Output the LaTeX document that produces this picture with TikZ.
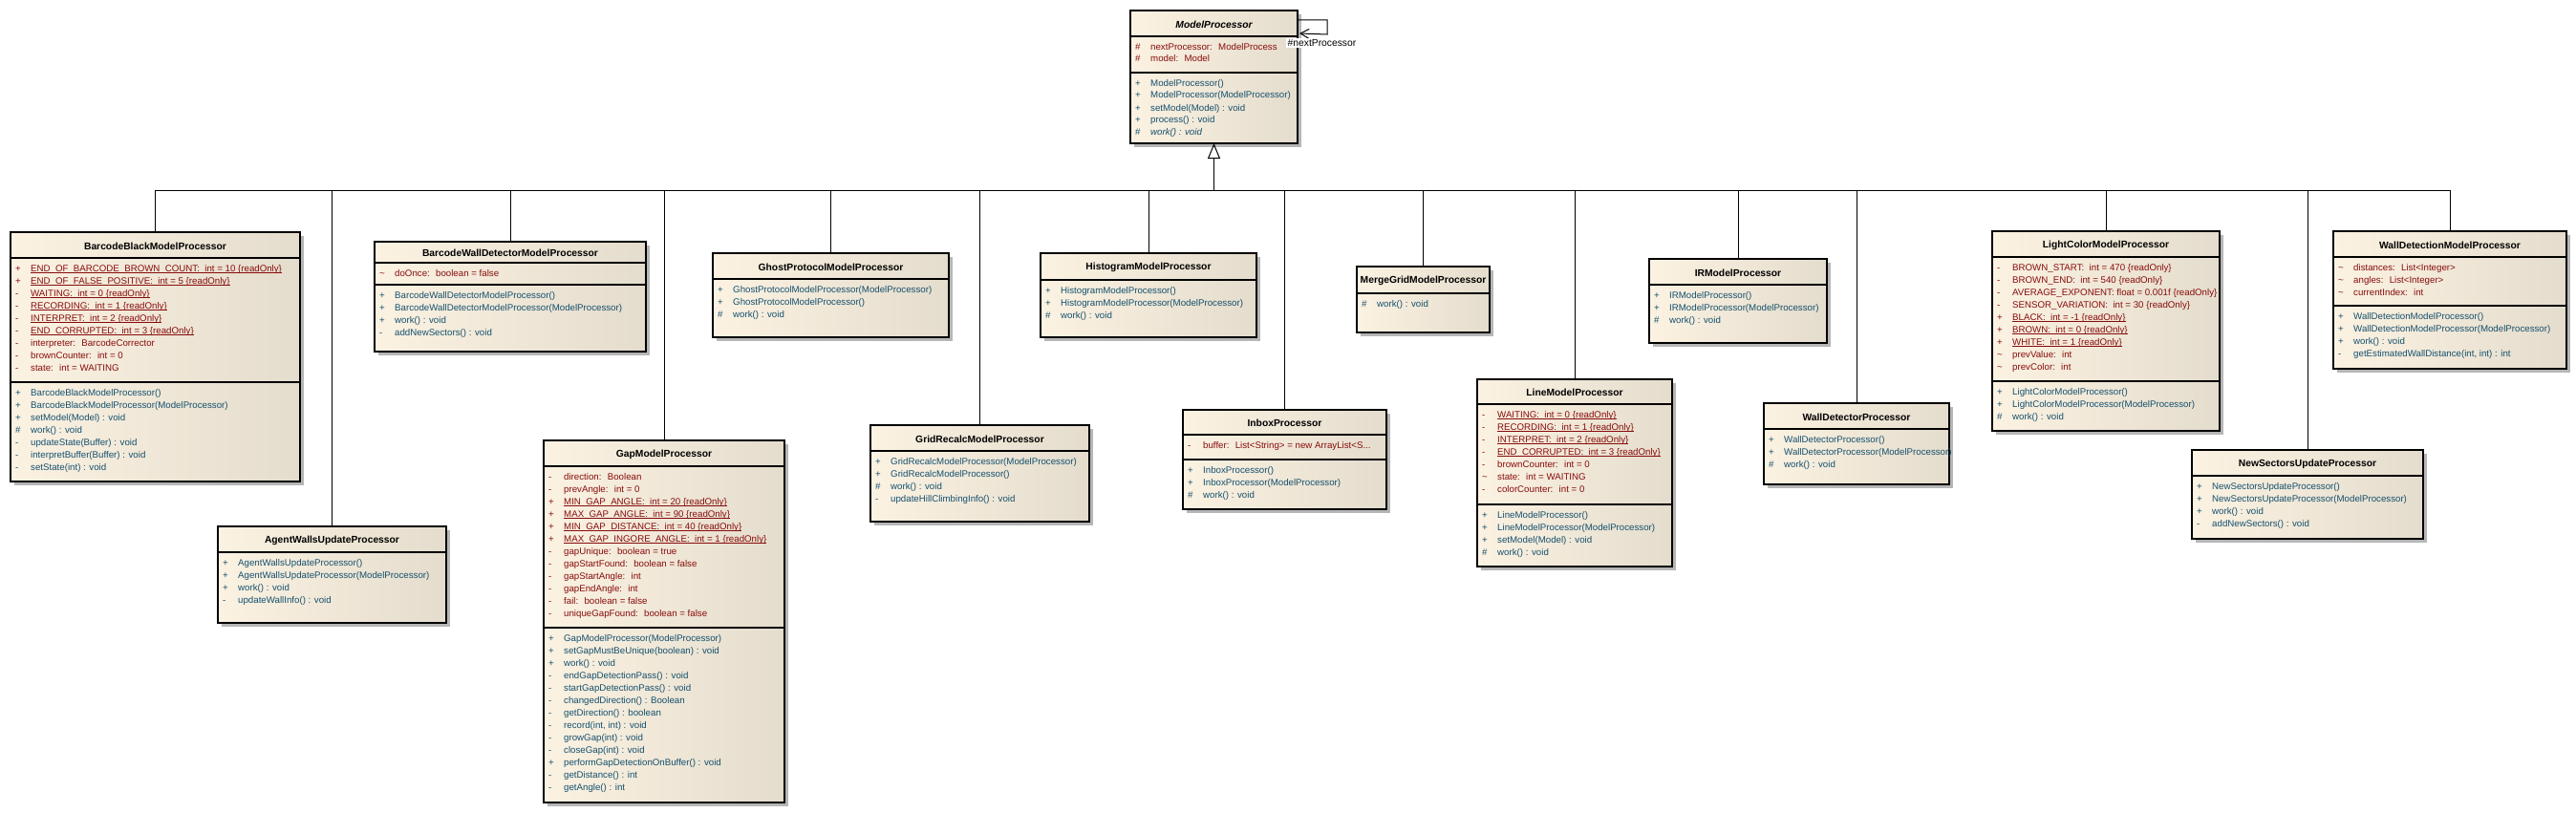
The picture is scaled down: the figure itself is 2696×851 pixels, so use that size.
\documentclass[tikz,border=0pt]{standalone}
\usepackage{fontspec}
\setmainfont{Liberation Sans}
\usetikzlibrary{arrows.meta}
\definecolor{cl}{RGB}{251,242,226}
\definecolor{cr}{RGB}{228,220,204}
\definecolor{shadowc}{RGB}{182,182,182}
\definecolor{attrc}{RGB}{135,12,12}
\definecolor{opc}{RGB}{20,80,110}
\newcommand{\memfont}{\fontsize{9.7}{13}\selectfont}
\newcommand{\ttlfont}{\fontsize{10.3}{13}\selectfont}
\newcommand{\uln}[1]{\setbox0\hbox{#1}\rlap{\rule[-2.3pt]{\wd0}{1.1pt}}\box0}
\newcommand{\tld}{\textasciitilde}
\tikzset{
  classbox/.style={draw, line width=1.5pt, left color=cl, right color=cr, inner sep=0pt, outer sep=0pt},
  divline/.style={line width=1.3pt},
  titletext/.style={font=\ttlfont\bfseries, inner sep=0pt},
  attrs/.style={font=\memfont, text=attrc, inner sep=0pt, anchor=north west},
  opers/.style={font=\memfont, text=opc, inner sep=0pt, anchor=north west},
  conn/.style={line width=1pt},
  lbl/.style={font=\ttlfont, fill=white, inner sep=1.5pt}
}
% name, left, top, right, bottom, header divider y, title
\newcommand{\umlclass}[7]{%
  \fill[shadowc] ({#2+4},{#3+4}) rectangle ({#4+4},{#5+4});
  \node[classbox, anchor=north west, minimum width={(#4-#2)*1pt}, minimum height={(#5-#3)*1pt}] (#1) at (#2,#3) {};
  \draw[divline] (#2,#6) -- (#4,#6);
  \node[titletext] (#1-t) at ({(#2+#4)/2},{(#3+#6)/2+1}) {#7};
}
% left, right, divider y
\newcommand{\compdiv}[3]{\draw[divline] (#1,#3) -- (#2,#3);}
% node name, style, left, top divider y, rows
\newcommand{\members}[5]{%
  \node[#2] (#1) at ({#3+5},{#4+4.7}) {\begin{tabular}{@{}p{16pt}@{}l@{}}#5\end{tabular}};
}
\begin{document}
\begin{tikzpicture}[x=1pt,y=-1pt]
\fill[white] (0,0) rectangle (2696,851);
\useasboundingbox (0,0) rectangle (2696,851);

% ModelProcessor
\umlclass{mp}{1183}{11}{1358}{150}{38}{\itshape ModelProcessor}
\compdiv{1183}{1358}{76}
\members{mp-a}{attrs}{1183}{38}{\# & nextProcessor:~ ModelProcess\\ \# & model:~ Model}
\members{mp-o}{opers}{1183}{76}{+ & ModelProcessor()\\ + & ModelProcessor(ModelProcessor)\\ + & setModel(Model) : void\\ + & process() : void\\ \# & \itshape work() : void}

% BarcodeBlackModelProcessor
\umlclass{bb}{11}{243}{314}{504}{270}{BarcodeBlackModelProcessor}
\compdiv{11}{314}{400}
\members{bb-a}{attrs}{11}{270}{+ & \uln{END\_OF\_BARCODE\_BROWN\_COUNT:~ int = 10 \{readOnly\}}\\ + & \uln{END\_OF\_FALSE\_POSITIVE:~ int = 5 \{readOnly\}}\\ - & \uln{WAITING:~ int = 0 \{readOnly\}}\\ - & \uln{RECORDING:~ int = 1 \{readOnly\}}\\ - & \uln{INTERPRET:~ int = 2 \{readOnly\}}\\ - & \uln{END\_CORRUPTED:~ int = 3 \{readOnly\}}\\ - & interpreter:~ BarcodeCorrector\\ - & brownCounter:~ int = 0\\ - & state:~ int = WAITING}
\members{bb-o}{opers}{11}{400}{+ & BarcodeBlackModelProcessor()\\ + & BarcodeBlackModelProcessor(ModelProcessor)\\ + & setModel(Model) : void\\ \# & work() : void\\ - & updateState(Buffer) : void\\ - & interpretBuffer(Buffer) : void\\ - & setState(int) : void}

% AgentWallsUpdateProcessor
\umlclass{aw}{228}{551}{467}{652}{578}{AgentWallsUpdateProcessor}
\members{aw-o}{opers}{228}{578}{+ & AgentWallsUpdateProcessor()\\ + & AgentWallsUpdateProcessor(ModelProcessor)\\ + & work() : void\\ - & updateWallInfo() : void}

% BarcodeWallDetectorModelProcessor
\umlclass{bw}{392}{253}{676}{368}{275}{BarcodeWallDetectorModelProcessor}
\compdiv{392}{676}{298}
\members{bw-a}{attrs}{392}{275}{\tld & doOnce:~ boolean = false}
\members{bw-o}{opers}{392}{298}{+ & BarcodeWallDetectorModelProcessor()\\ + & BarcodeWallDetectorModelProcessor(ModelProcessor)\\ + & work() : void\\ - & addNewSectors() : void}

% GapModelProcessor
\umlclass{gap}{569}{461}{821}{840}{488}{GapModelProcessor}
\compdiv{569}{821}{657}
\members{gap-a}{attrs}{569}{488}{- & direction:~ Boolean\\ - & prevAngle:~ int = 0\\ + & \uln{MIN\_GAP\_ANGLE:~ int = 20 \{readOnly\}}\\ + & \uln{MAX\_GAP\_ANGLE:~ int = 90 \{readOnly\}}\\ + & \uln{MIN\_GAP\_DISTANCE:~ int = 40 \{readOnly\}}\\ + & \uln{MAX\_GAP\_INGORE\_ANGLE:~ int = 1 \{readOnly\}}\\ - & gapUnique:~ boolean = true\\ - & gapStartFound:~ boolean = false\\ - & gapStartAngle:~ int\\ - & gapEndAngle:~ int\\ - & fail:~ boolean = false\\ - & uniqueGapFound:~ boolean = false}
\members{gap-o}{opers}{569}{657}{+ & GapModelProcessor(ModelProcessor)\\ + & setGapMustBeUnique(boolean) : void\\ + & work() : void\\ - & endGapDetectionPass() : void\\ - & startGapDetectionPass() : void\\ - & changedDirection() : Boolean\\ - & getDirection() : boolean\\ - & record(int, int) : void\\ - & growGap(int) : void\\ - & closeGap(int) : void\\ + & performGapDetectionOnBuffer() : void\\ - & getDistance() : int\\ - & getAngle() : int}

% GhostProtocolModelProcessor
\umlclass{gh}{746}{265}{993}{353}{292}{GhostProtocolModelProcessor}
\members{gh-o}{opers}{746}{292}{+ & GhostProtocolModelProcessor(ModelProcessor)\\ + & GhostProtocolModelProcessor()\\ \# & work() : void}

% GridRecalcModelProcessor
\umlclass{gr}{911}{445}{1140}{546}{472}{GridRecalcModelProcessor}
\members{gr-o}{opers}{911}{472}{+ & GridRecalcModelProcessor(ModelProcessor)\\ + & GridRecalcModelProcessor()\\ \# & work() : void\\ - & updateHillClimbingInfo() : void}

% HistogramModelProcessor
\umlclass{hi}{1089}{265}{1315}{353}{293}{HistogramModelProcessor}
\members{hi-o}{opers}{1089}{293}{+ & HistogramModelProcessor()\\ + & HistogramModelProcessor(ModelProcessor)\\ \# & work() : void}

% InboxProcessor
\umlclass{ib}{1238}{429}{1451}{533}{455}{InboxProcessor}
\compdiv{1238}{1451}{481}
\members{ib-a}{attrs}{1238}{455}{- & buffer:~ List<String> = new ArrayList<S...}
\members{ib-o}{opers}{1238}{481}{+ & InboxProcessor()\\ + & InboxProcessor(ModelProcessor)\\ \# & work() : void}

% MergeGridModelProcessor
\umlclass{mg}{1420}{279}{1559}{348}{307}{MergeGridModelProcessor}
\members{mg-o}{opers}{1420}{307}{\# & work() : void}

% LineModelProcessor
\umlclass{lm}{1546}{397}{1750}{593}{423}{LineModelProcessor}
\compdiv{1546}{1750}{528}
\members{lm-a}{attrs}{1546}{423}{- & \uln{WAITING:~ int = 0 \{readOnly\}}\\ - & \uln{RECORDING:~ int = 1 \{readOnly\}}\\ - & \uln{INTERPRET:~ int = 2 \{readOnly\}}\\ - & \uln{END\_CORRUPTED:~ int = 3 \{readOnly\}}\\ - & brownCounter:~ int = 0\\ \tld & state:~ int = WAITING\\ - & colorCounter:~ int = 0}
\members{lm-o}{opers}{1546}{528}{+ & LineModelProcessor()\\ + & LineModelProcessor(ModelProcessor)\\ + & setModel(Model) : void\\ \# & work() : void}

% IRModelProcessor
\umlclass{ir}{1726}{271}{1912}{359}{298}{IRModelProcessor}
\members{ir-o}{opers}{1726}{298}{+ & IRModelProcessor()\\ + & IRModelProcessor(ModelProcessor)\\ \# & work() : void}

% WallDetectorProcessor
\umlclass{wd}{1846}{422}{2040}{507}{449}{WallDetectorProcessor}
\members{wd-o}{opers}{1846}{449}{+ & WallDetectorProcessor()\\ + & WallDetectorProcessor(ModelProcessor)\\ \# & work() : void}

% LightColorModelProcessor
\umlclass{lc}{2085}{242}{2323}{451}{269}{LightColorModelProcessor}
\compdiv{2085}{2323}{399}
\members{lc-a}{attrs}{2085}{269}{- & BROWN\_START:~ int = 470 \{readOnly\}\\ - & BROWN\_END:~ int = 540 \{readOnly\}\\ - & AVERAGE\_EXPONENT: float = 0.001f \{readOnly\}\\ - & SENSOR\_VARIATION:~ int = 30 \{readOnly\}\\ + & \uln{BLACK:~ int = -1 \{readOnly\}}\\ + & \uln{BROWN:~ int = 0 \{readOnly\}}\\ + & \uln{WHITE:~ int = 1 \{readOnly\}}\\ \tld & prevValue:~ int\\ \tld & prevColor:~ int}
\members{lc-o}{opers}{2085}{399}{+ & LightColorModelProcessor()\\ + & LightColorModelProcessor(ModelProcessor)\\ \# & work() : void}

% NewSectorsUpdateProcessor
\umlclass{ns}{2294}{471}{2536}{564}{498}{NewSectorsUpdateProcessor}
\members{ns-o}{opers}{2294}{498}{+ & NewSectorsUpdateProcessor()\\ + & NewSectorsUpdateProcessor(ModelProcessor)\\ + & work() : void\\ - & addNewSectors() : void}

% WallDetectionModelProcessor
\umlclass{wm}{2442}{242}{2686}{386}{269}{WallDetectionModelProcessor}
\compdiv{2442}{2686}{320}
\members{wm-a}{attrs}{2442}{269}{\tld & distances:~ List<Integer>\\ \tld & angles:~ List<Integer>\\ \tld & currentIndex:~ int}
\members{wm-o}{opers}{2442}{320}{+ & WallDetectionModelProcessor()\\ + & WallDetectionModelProcessor(ModelProcessor)\\ + & work() : void\\ - & getEstimatedWallDistance(int, int) : int}

% generalization tree
\coordinate (bus) at (1271,199);
\draw[conn] (bb.north |- bus) -- (wm.north |- bus);
\foreach \c in {bb,aw,bw,gap,gh,gr,hi,ib,mg,lm,ir,wd,lc,ns,wm}{
  \draw[conn] (\c.north |- bus) -- (\c.north);
}
\draw[conn, -{Triangle[open, length=16pt, width=13pt]}] (mp.south |- bus) -- (mp.south);

% self association
\coordinate (sa) at ([yshift=-10pt]mp.north east);
\draw[conn, -{Straight Barb[length=9pt, width=10pt]}] (sa) -| ([xshift=31pt,yshift=-25pt]mp.north east) -- ([xshift=2pt,yshift=-24pt]mp.north east);
\node[lbl, anchor=west] (np) at ([xshift=-12pt,yshift=-34pt]mp.north east) {\#nextProcessor};
\end{tikzpicture}
\end{document}
